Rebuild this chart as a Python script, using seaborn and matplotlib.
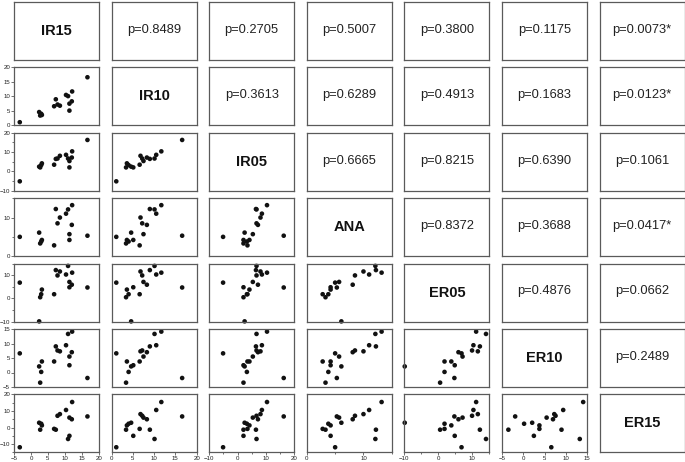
import matplotlib
matplotlib.use("Agg")
import matplotlib.pyplot as plt
import pandas as pd
import seaborn as sns
from matplotlib.ticker import FixedLocator, MultipleLocator, NullLocator

# ---- data -------------------------------------------------------------
variables = ["IR15", "IR10", "IR05", "ANA", "ER05", "ER10", "ER15"]

IR15 = [-3.3, 2.4, 2.7, 3.0, 3.2, 6.8, 7.3, 7.8, 8.5, 10.3, 10.9, 11.3, 11.3, 12.0, 12.1, 16.6]
IR10 = [1.1, 4.6, 3.4, 4.0, 3.6, 6.6, 9.0, 7.2, 6.8, 10.5, 10.1, 7.5, 5.1, 8.3, 11.7, 16.6]
IR05 = [-5.1, 2.5, 2.1, 3.3, 4.2, 3.5, 6.5, 6.7, 8.1, 8.6, 6.7, 5.4, 2.1, 7.2, 10.4, 16.3]
ANA = [5.0, 6.1, 3.3, 3.8, 4.2, 2.8, 12.2, 8.5, 10.0, 11.0, 12.1, 5.7, 4.2, 8.1, 13.2, 5.3]
ER05 = [6.8, -9.9, 0.5, 1.8, 3.8, 1.8, 12.2, 9.9, 11.6, 10.3, 14.0, 7.1, 4.8, 5.9, 11.1, 4.7]
ER10 = [6.6, 2.1, -3.5, 0.2, 3.8, 3.8, 9.0, 7.6, 7.3, 9.4, 13.3, 5.5, 2.5, 7.0, 14.1, -1.9]
ER15 = [-11.9, 2.9, -1.3, 2.3, 1.3, -0.8, -1.3, 7.1, 8.1, 10.6, -6.9, 6.0, -5.0, 5.0, 15.4, 6.7]

# upper-triangle p-values, row by row
p_row0 = ["p=0.8489", "p=0.2705", "p=0.5007", "p=0.3800", "p=0.1175", "p=0.0073*"]
p_row1 = ["p=0.3613", "p=0.6289", "p=0.4913", "p=0.1683", "p=0.0123*"]
p_row2 = ["p=0.6665", "p=0.8215", "p=0.6390", "p=0.1061"]
p_row3 = ["p=0.8372", "p=0.3688", "p=0.0417*"]
p_row4 = ["p=0.4876", "p=0.0662"]
p_row5 = ["p=0.2489"]
p_rows = [p_row0, p_row1, p_row2, p_row3, p_row4, p_row5]

# axis ranges and labelled ticks per variable
limits = {"IR15": (-5, 20), "IR10": (0, 20), "IR05": (-10, 20), "ANA": (0, 15),
          "ER05": (-10, 15), "ER10": (-5, 15), "ER15": (-15, 20)}
majors = {"IR15": [-5, 0, 5, 10, 15, 20], "IR10": [0, 5, 10, 15, 20],
          "IR05": [-10, 0, 10, 20], "ANA": [0, 10], "ER05": [-10, 0, 10],
          "ER10": [-5, 0, 5, 10, 15], "ER15": [-10, 0, 10, 20]}

df = pd.DataFrame({"IR15": IR15, "IR10": IR10, "IR05": IR05, "ANA": ANA,
                   "ER05": ER05, "ER10": ER10, "ER15": ER15})

sns.set_theme(style="ticks")
plt.rcParams['font.family'] = ['Liberation Sans', 'DejaVu Sans']

W, H = 685, 462
fig = plt.figure(figsize=(W / 100, H / 100), dpi=100)
fig.patch.set_facecolor("white")

left0, step_x, w = 14, 97.6, 85
top0, step_y, h = 2, 65.4, 58
frame_col = "#5a5a5a"

n = len(variables)
for i, yv in enumerate(variables):
    for j, xv in enumerate(variables):
        l = left0 + j * step_x
        t = top0 + i * step_y
        ax = fig.add_axes([l / W, 1 - (t + h) / H, w / W, h / H])
        for s in ax.spines.values():
            s.set_color(frame_col)
            s.set_linewidth(0.9)
        ax.set_facecolor("white")
        if i == j:
            ax.text(0.5, 0.5, xv, ha="center", va="center", fontsize=10.5,
                    fontweight="bold", color="#111111", transform=ax.transAxes)
            ax.set_xticks([]); ax.set_yticks([])
            continue
        if j > i:
            ax.text(0.5, 0.52, p_rows[i][j - i - 1], ha="center", va="center",
                    fontsize=9.3, color="#222222", transform=ax.transAxes)
            ax.set_xticks([]); ax.set_yticks([])
            continue
        sns.scatterplot(data=df, x=xv, y=yv, ax=ax, color="#111111", s=11,
                        edgecolor="none", legend=False, clip_on=False)
        ax.set_xlim(*limits[xv])
        ax.set_ylim(*limits[yv])
        ax.set_xlabel("")
        ax.set_ylabel("")
        show_y = (j == 0)
        show_x = (i == n - 1)
        if show_y:
            ax.yaxis.set_major_locator(FixedLocator(majors[yv]))
            ax.yaxis.set_minor_locator(MultipleLocator(5))
            ax.tick_params(axis="y", which="both", left=True, length=2, width=0.6,
                           color=frame_col, labelsize=4.4, pad=0.8, labelcolor="#222222")
            ax.tick_params(axis="y", which="minor", length=1.5)
        else:
            ax.yaxis.set_major_locator(NullLocator())
            ax.yaxis.set_minor_locator(NullLocator())
        if show_x:
            ax.xaxis.set_major_locator(FixedLocator(majors[xv]))
            ax.xaxis.set_minor_locator(MultipleLocator(5))
            ax.tick_params(axis="x", which="both", bottom=True, length=2, width=0.6,
                           color=frame_col, labelsize=4.4, pad=0.8, labelcolor="#222222")
            ax.tick_params(axis="x", which="minor", length=1.5)
        else:
            ax.xaxis.set_major_locator(NullLocator())
            ax.xaxis.set_minor_locator(NullLocator())

fig.savefig("out.png", dpi=100, facecolor="white")
